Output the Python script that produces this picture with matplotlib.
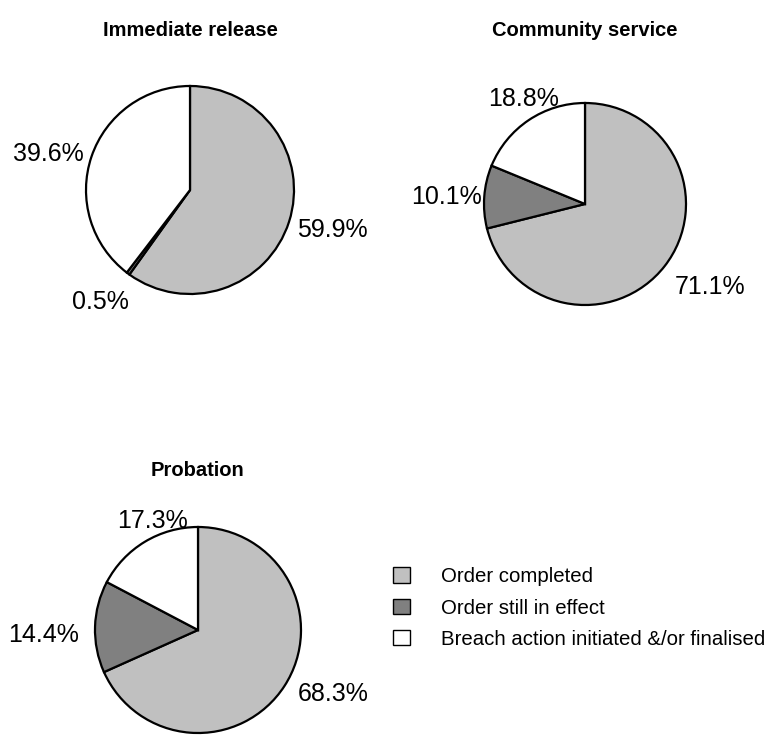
import matplotlib.pyplot as plt

plt.rcParams['font.family'] = ['Liberation Sans', 'DejaVu Sans']

# data
categories = ['Order completed', 'Order still in effect', 'Breach action initiated &/or finalised']
colors = ['#c0c0c0', '#808080', '#ffffff']
titles = ['Immediate release', 'Community service', 'Probation']
immediate = [59.9, 0.5, 39.6]
community = [71.1, 10.1, 18.8]
probation = [68.3, 14.4, 17.3]

W, H = 777, 738
fig = plt.figure(figsize=(W / 100, H / 100), dpi=100)


def pie_axes(cx, cy, r):
    # pixel centre/radius -> figure fraction axes
    return fig.add_axes([(cx - r) / W, (H - cy - r) / H, 2 * r / W, 2 * r / H])


# centre x, centre y, radius (px), title y (px), label nudges (px, x right / y down)
layout = [(190, 190, 104, 30, [(6, -4), (-4, -3), (-6, 10)]),
          (585, 204, 101, 30, [(15, -3), (1, 3), (16, 11)]),
          (198, 630, 103, 470, [(16, -13), (-12, 9), (28, 13)])]
wedges_all = []
for vals, title, (cx, cy, r, ty, nudges) in zip([immediate, community, probation], titles, layout):
    ax = pie_axes(cx, cy, r)
    wedges, texts, autotexts = ax.pie(vals, colors=colors, startangle=90, counterclock=False,
                                      autopct='%1.1f%%', pctdistance=1.38,
                                      wedgeprops=dict(edgecolor='black', linewidth=1.6),
                                      textprops=dict(fontsize=18))
    for t, (dx, dy) in zip(autotexts, nudges):
        x, y = t.get_position()
        t.set_position((x + dx / r, y - dy / r))
    ax.set_xlim(-1, 1)
    ax.set_ylim(-1, 1)
    ax.set_aspect('auto')
    ax.axis('off')
    fig.text(cx / W, 1 - ty / H, title, ha='center', va='center',
             fontsize=14.5, fontweight='bold')
    wedges_all.append(wedges)

leg = fig.legend(wedges_all[2], categories, loc='center left', bbox_to_anchor=(375 / W, 1 - 608 / H),
                 frameon=False, fontsize=14.7, handlelength=0.8, handleheight=0.8,
                 handletextpad=1.55, labelspacing=0.6)
for h in leg.legend_handles:
    h.set_linewidth(1.0)

fig.savefig('out.png', dpi=100)
